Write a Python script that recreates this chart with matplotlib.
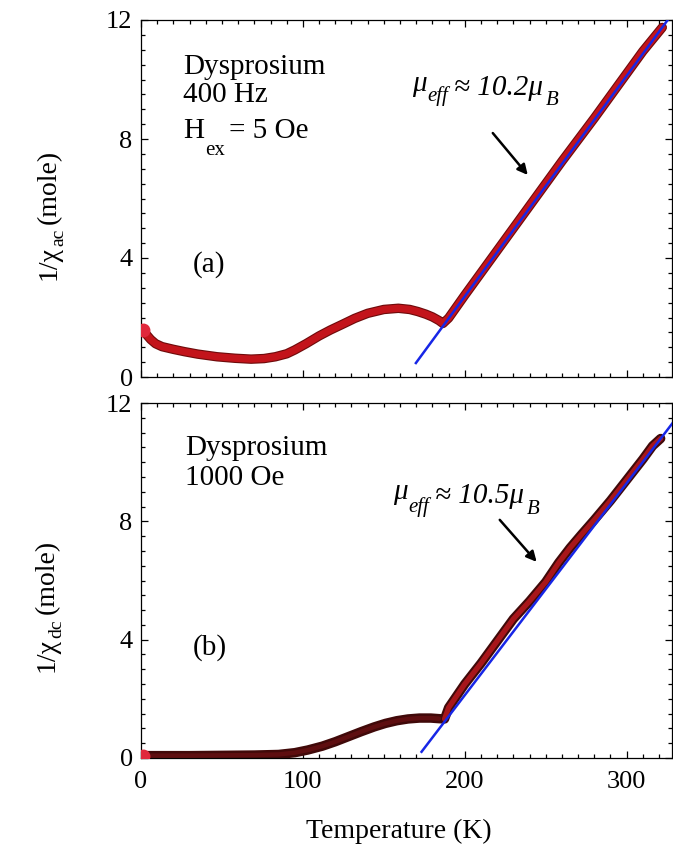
import matplotlib
matplotlib.use("Agg")
import matplotlib.pyplot as plt
import matplotlib.patheffects as pe
from matplotlib.ticker import MultipleLocator
from matplotlib.transforms import IdentityTransform

# ---------------- data ----------------
T_ac = [1, 3, 6, 9, 13, 20, 27, 35, 47, 58, 68, 76, 83, 90, 95, 102, 110, 117,
        124, 132, 140, 150, 159, 166, 171, 176, 180, 184, 186.5, 190, 200, 220,
        240, 260, 280, 300, 310, 322]
chi_ac = [1.58, 1.45, 1.26, 1.12, 1.02, 0.93, 0.85, 0.77, 0.68, 0.63, 0.60, 0.62,
          0.68, 0.78, 0.91, 1.12, 1.38, 1.58, 1.76, 1.97, 2.14, 2.27, 2.31, 2.27,
          2.20, 2.11, 2.02, 1.90, 1.80, 1.98, 2.75, 4.25, 5.75, 7.25, 8.70, 10.20,
          10.95, 11.75]

T_dc = [1, 10, 30, 50, 70, 85, 95, 103, 112, 120, 128, 136, 144, 151, 158, 165,
        172, 179, 184, 187.5, 190, 200, 210, 220, 230, 240, 250, 258, 265, 272,
        280, 290, 300, 310, 316, 321]
chi_dc = [0.08, 0.08, 0.08, 0.09, 0.10, 0.12, 0.18, 0.27, 0.40, 0.55, 0.72, 0.89,
          1.05, 1.17, 1.26, 1.32, 1.35, 1.35, 1.33, 1.32, 1.70, 2.50, 3.20, 3.95,
          4.70, 5.30, 5.95, 6.60, 7.10, 7.55, 8.05, 8.70, 9.40, 10.10, 10.55, 10.80]

fit_ac_T = [169.8, 326.0]
fit_ac_v = [0.47, 12.05]
fit_dc_T = [173.3, 330.0]
fit_dc_v = [0.21, 11.44]

xticks = [0, 100, 200, 300]
yticks = [0, 4, 8, 12]

# ---------------- style ----------------
plt.rcParams['font.family'] = ['Liberation Serif', 'DejaVu Serif']

W, H = 673, 852
fig = plt.figure(figsize=(W / 100, H / 100), dpi=100)
renderer = fig.canvas.get_renderer()

def axes_px(x0, y0, x1, y1):
    return fig.add_axes([x0 / W, 1 - y1 / H, (x1 - x0) / W, (y1 - y0) / H])

ax1 = axes_px(141, 20, 672, 377)
ax2 = axes_px(141, 403, 672, 758)

for ax in (ax1, ax2):
    ax.set_xlim(0, 328)
    ax.set_ylim(0, 12)
    ax.set_xticks(xticks)
    ax.set_yticks(yticks)
    ax.xaxis.set_minor_locator(MultipleLocator(10))
    ax.yaxis.set_minor_locator(MultipleLocator(0.5))
    ax.tick_params(which='both', direction='in', top=True, right=True,
                   labelsize=19, width=0.9)
    ax.tick_params(which='major', length=5)
    ax.tick_params(which='minor', length=3)
    ax.tick_params(axis='y', pad=6)
    ax.tick_params(axis='x', pad=9)
    for s in ax.spines.values():
        s.set_linewidth(0.9)

ax1.tick_params(labelbottom=False)

red = '#c3141b'
dark = '#6e0b0b'

# top panel curve
ax1.plot(T_ac, chi_ac, color=red, lw=5.2, solid_capstyle='round',
         path_effects=[pe.Stroke(linewidth=6.8, foreground=dark), pe.Normal()],
         zorder=3)
ax1.plot(T_ac[:1], chi_ac[:1], 'o', color='#e0283c', ms=9, zorder=4)
ax1.plot(fit_ac_T, fit_ac_v, color='#1726e6', lw=1.8, zorder=5)

# bottom panel curve
ax2.plot(T_dc, chi_dc, color='#400909', lw=6.8, solid_capstyle='round', zorder=3)
k = T_dc.index(187.5)
ax2.plot(T_dc[k:], chi_dc[k:], color='#a8161a', lw=3.8, solid_capstyle='round',
         zorder=3)
ax2.plot(T_dc[:k], chi_dc[:k], color='#5e0e10', lw=3.2, solid_capstyle='round',
         zorder=3)
ax2.plot(T_dc[:1], chi_dc[:1], 'o', color='#e0283c', ms=9, zorder=4)
ax2.plot(fit_dc_T, fit_dc_v, color='#1726e6', lw=1.8, zorder=5)

ax2.set_xlabel('Temperature (K)', fontsize=20)
ax2.xaxis.set_label_coords(0.486, -0.17)


def seq_text(x0, y0, pieces, rotated=False):
    """Place text pieces one after another in pixel coords (origin bottom-left).
    Each piece: (text, size, drop_px, style, gap_px)."""
    c = y0 if rotated else x0
    for s, size, drop, style, gap in pieces:
        if rotated:
            t = fig.text(x0 + drop, c, s, fontsize=size, style=style, rotation=90,
                         rotation_mode='anchor', ha='left', va='baseline',
                         transform=IdentityTransform())
            bb = t.get_window_extent(renderer)
            c = bb.y1 + gap
        else:
            t = fig.text(c, y0 - drop, s, fontsize=size, style=style,
                         ha='left', va='baseline', transform=IdentityTransform())
            bb = t.get_window_extent(renderer)
            c = bb.x1 + gap


def seq_data(ax, x, y, pieces):
    px, py = ax.transData.transform((x, y))
    seq_text(px, py, pieces)


# y labels (pixel positions measured from top of image)
seq_text(56, H - 280, [('1/χ', 20, 0, 'normal', 0), ('ac', 14, 7, 'normal', 5),
                       ('(mole)', 20, 0, 'normal', 0)], rotated=True)
seq_text(54, H - 672, [('1/χ', 20, 0, 'normal', 0), ('dc', 14, 7, 'normal', 5),
                       ('(mole)', 20, 0, 'normal', 0)], rotated=True)

# annotations top
ax1.text(26, 10.2, 'Dysprosium', fontsize=21)
ax1.text(26, 9.24, '400 Hz', fontsize=21)
seq_data(ax1, 26, 8.03, [('H', 21, 0, 'normal', 1), ('ex', 15, 17, 'normal', 4),
                         ('= 5 Oe', 21, 0, 'normal', 0)])
ax1.text(32, 3.53, '(a)', fontsize=21)
seq_data(ax1, 167.3, 9.48, [('μ', 21, -4, 'italic', 1), ('eff', 15, 6, 'italic', 6),
                            ('≈ 10.2μ', 21, 0, 'italic', 3), ('B', 15, 10, 'italic', 0)])
ax1.annotate('', xy=(238.9, 6.79), xytext=(217.3, 8.2),
             arrowprops=dict(arrowstyle='-|>', color='black', lw=1.8,
                             mutation_scale=15, shrinkA=0, shrinkB=0))

# annotations bottom
ax2.text(27, 10.24, 'Dysprosium', fontsize=21)
ax2.text(27, 9.23, '1000 Oe', fontsize=21)
ax2.text(32, 3.48, '(b)', fontsize=21)
seq_data(ax2, 155.6, 8.62, [('μ', 21, -4, 'italic', 1), ('eff', 15, 9, 'italic', 6),
                            ('≈ 10.5μ', 21, 0, 'italic', 3), ('B', 15, 11, 'italic', 0)])
ax2.annotate('', xy=(244.4, 6.63), xytext=(221.6, 8.05),
             arrowprops=dict(arrowstyle='-|>', color='black', lw=1.8,
                             mutation_scale=15, shrinkA=0, shrinkB=0))

fig.savefig('out.png', dpi=100)
